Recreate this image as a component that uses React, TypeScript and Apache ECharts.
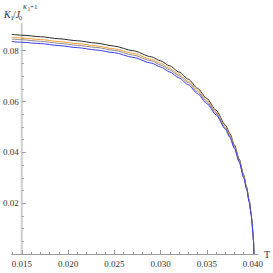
import React, { useEffect, useRef } from "react";
import * as echarts from "echarts";

const tValues = [0.0139, 0.015, 0.017, 0.019, 0.021, 0.023, 0.025, 0.027, 0.029, 0.03, 0.031, 0.032, 0.033, 0.034, 0.035, 0.036, 0.037, 0.0375, 0.038, 0.0385, 0.039, 0.0393, 0.0396, 0.0398, 0.0399, 0.04, 0.04005, 0.0401];
const blackSeries = [0.0864, 0.0861, 0.0855, 0.0847, 0.0839, 0.083, 0.0818, 0.08, 0.0776, 0.076, 0.074, 0.0716, 0.0688, 0.0652, 0.0612, 0.0566, 0.0508, 0.0474, 0.0428, 0.0374, 0.031, 0.0264, 0.021, 0.016, 0.0124, 0.008, 0.0054, 0];
const orangeSeries = [0.0853, 0.085, 0.0844, 0.0836, 0.0828, 0.0819, 0.0807, 0.079, 0.0766, 0.075, 0.073, 0.0707, 0.0679, 0.0644, 0.0604, 0.0559, 0.0501, 0.0468, 0.0422, 0.0369, 0.0306, 0.0261, 0.0207, 0.0158, 0.0122, 0.0079, 0.0053, 0];
const graySeries = [0.0846, 0.0843, 0.0837, 0.0829, 0.0821, 0.0813, 0.0801, 0.0783, 0.076, 0.0744, 0.0724, 0.0701, 0.0674, 0.0638, 0.0599, 0.0554, 0.0497, 0.0464, 0.0419, 0.0366, 0.0303, 0.0258, 0.0206, 0.0157, 0.0121, 0.0078, 0.0053, 0];
const blueSeries = [0.0836, 0.0833, 0.0828, 0.082, 0.0812, 0.0803, 0.0792, 0.0774, 0.0751, 0.0736, 0.0716, 0.0693, 0.0666, 0.0631, 0.0592, 0.0548, 0.0492, 0.0459, 0.0414, 0.0362, 0.03, 0.0256, 0.0203, 0.0155, 0.012, 0.0077, 0.0052, 0];

const xMajorTicks = [0.015, 0.02, 0.025, 0.03, 0.035, 0.04];
const xMinorTicks = [0.014, 0.016, 0.017, 0.018, 0.019, 0.021, 0.022, 0.023, 0.024, 0.026, 0.027, 0.028, 0.029, 0.031, 0.032, 0.033, 0.034, 0.036, 0.037, 0.038, 0.039];
const yMajorTicks = [0.02, 0.04, 0.06, 0.08];
const yMinorTicks = [0.005, 0.01, 0.015, 0.025, 0.03, 0.035, 0.045, 0.05, 0.055, 0.065, 0.07, 0.075, 0.085];

const FONT = "'Liberation Serif', 'Times New Roman', serif";
const AXIS_GRAY = "#9a9a9a";

function zip(xs: number[], ys: number[]) {
  return xs.map((x, i) => [x, ys[i]]);
}

export default function App() {
  const ref = useRef<HTMLDivElement>(null);
  useEffect(() => {
    if (!ref.current) return;
    const chart = echarts.init(ref.current, null, { renderer: "svg" });
    const xMin = 0.0139;
    const xMax = 0.04053;
    const yMin = 0;
    const yMax = 0.0905;
    const titleText = (text: string, x: number, y: number, size: number, italic = false) => ({
      type: "text",
      x,
      y,
      style: {
        text,
        fill: "#333",
        font: `${italic ? "italic " : ""}${size}px ${FONT}`,
        verticalAlign: "bottom",
        align: "left",
      },
    });
    const line = (data: number[], color: string) => ({
      type: "line",
      data: zip(tValues, data),
      showSymbol: false,
      smooth: 0.25,
      smoothMonotone: "x",
      lineStyle: { color, width: 1 },
    });
    chart.setOption({
      animation: false,
      backgroundColor: "#fff",
      grid: { left: 7, top: 24, width: 252, height: 230 },
      xAxis: [
        {
          type: "value",
          min: xMin,
          max: xMax,
          position: "bottom",
          axisLine: { show: true, onZero: false, lineStyle: { color: AXIS_GRAY, width: 1 } },
          axisTick: { show: true, inside: true, length: 4, customValues: xMajorTicks, lineStyle: { color: AXIS_GRAY } },
          axisLabel: {
            customValues: xMajorTicks,
            formatter: (v: number) => v.toFixed(3),
            fontFamily: FONT,
            fontSize: 9,
            color: "#333",
            margin: 5,
          },
          splitLine: { show: false },
          name: "T",
          nameLocation: "end",
          nameGap: 6,
          nameTextStyle: { fontFamily: FONT, fontSize: 10, color: "#333", verticalAlign: "middle" },
        },
        {
          type: "value",
          min: xMin,
          max: xMax,
          position: "bottom",
          axisLine: { show: false, onZero: false },
          axisTick: { show: true, inside: true, length: 2, customValues: xMinorTicks, lineStyle: { color: AXIS_GRAY } },
          axisLabel: { show: false },
          splitLine: { show: false },
        },
      ],
      yAxis: [
        {
          type: "value",
          min: yMin,
          max: yMax,
          position: "left",
          offset: -10,
          axisLine: { show: true, onZero: false, lineStyle: { color: "#cfcfcf", width: 2 } },
          axisTick: { show: true, inside: true, length: 4, customValues: yMajorTicks, lineStyle: { color: AXIS_GRAY } },
          axisLabel: {
            customValues: yMajorTicks,
            formatter: (v: number) => v.toFixed(2),
            fontFamily: FONT,
            fontSize: 9,
            color: "#333",
            margin: 3,
          },
          splitLine: { show: false },
        },
        {
          type: "value",
          min: yMin,
          max: yMax,
          position: "left",
          offset: -10,
          axisLine: { show: false, onZero: false },
          axisTick: { show: true, inside: true, length: 2, customValues: yMinorTicks, lineStyle: { color: AXIS_GRAY } },
          axisLabel: { show: false },
          splitLine: { show: false },
        },
      ],
      series: [
        line(blackSeries, "#2a2a2a"),
        line(orangeSeries, "#f39a32"),
        line(graySeries, "#8a8a8a"),
        line(blueSeries, "#3b3bf0"),
      ],
      graphic: [
        titleText("K", 4, 19, 10, true),
        titleText("1", 10.5, 20.5, 6.5),
        titleText("/", 13, 19, 10),
        titleText("J", 15.5, 19, 10, true),
        titleText("0", 18.8, 20.5, 6.5),
        titleText("κ", 23, 10, 8, true),
        titleText("1", 27.5, 11.5, 5.5),
        titleText("+1", 30, 10, 7),
      ],
    });
    return () => chart.dispose();
  }, []);
  return <div ref={ref} style={{ position: "fixed", left: 0, top: 0, width: 273, height: 273 }} />;
}
